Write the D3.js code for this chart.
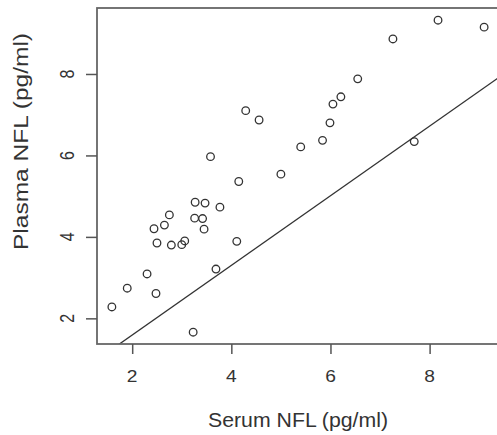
<!DOCTYPE html>
<html>
<head>
<meta charset="utf-8">
<script src="https://cdn.jsdelivr.net/npm/d3@7"></script>
<style>
  html, body { margin: 0; padding: 0; background: #fff; }
  svg { display: block; overflow: hidden; }
  text { font-family: "Liberation Sans", Arial, sans-serif; fill: #333; }
</style>
</head>
<body>
<svg id="chart" width="497" height="435"></svg>
<script>
// ---- data ----
const serumNFL = [1.59, 1.90, 2.30, 2.48, 2.44, 2.50, 2.65, 2.75, 2.79, 3.00, 3.06, 3.23, 3.27, 3.26, 3.42, 3.47, 3.45, 3.58, 3.69, 3.77, 4.11, 4.15, 4.29, 4.56, 5.00, 5.40, 5.84, 5.99, 6.05, 6.21, 6.55, 7.26, 7.69, 8.17, 9.10];
const plasmaNFL = [2.28, 2.74, 3.09, 2.61, 4.20, 3.85, 4.29, 4.54, 3.80, 3.81, 3.90, 1.66, 4.85, 4.46, 4.45, 4.83, 4.19, 5.97, 3.21, 4.73, 3.89, 5.36, 7.10, 6.87, 5.54, 6.21, 6.37, 6.80, 7.26, 7.44, 7.88, 8.86, 6.34, 9.32, 9.15];
const xTicks = [2, 4, 6, 8];
const yTicks = [2, 4, 6, 8];
const xDomain = [1.29, 9.40];
const yDomain = [1.37, 9.62];
const fitIntercept = -0.12;
const fitSlope = 0.855;
const xTitle = "Serum NFL (pg/ml)";
const yTitle = "Plasma NFL (pg/ml)";

// ---- layout ----
const plot = { left: 97, right: 499, top: 8, bottom: 344 };
const svg = d3.select("#chart");

const x = d3.scaleLinear().domain(xDomain).range([plot.left, plot.right]);
const y = d3.scaleLinear().domain(yDomain).range([plot.bottom, plot.top]);

// clip for the fitted line
svg.append("defs").append("clipPath").attr("id", "plotclip")
  .append("rect")
  .attr("x", plot.left).attr("y", plot.top)
  .attr("width", plot.right - plot.left).attr("height", plot.bottom - plot.top);

// fitted line
const lx0 = xDomain[0], lx1 = xDomain[1];
svg.append("line")
  .attr("clip-path", "url(#plotclip)")
  .attr("x1", x(lx0)).attr("y1", y(fitIntercept + fitSlope * lx0))
  .attr("x2", x(lx1)).attr("y2", y(fitIntercept + fitSlope * lx1))
  .attr("stroke", "#333").attr("stroke-width", 1.3);

// points
svg.append("g").selectAll("circle")
  .data(serumNFL.map((v, i) => [v, plasmaNFL[i]]))
  .join("circle")
  .attr("cx", d => x(d[0]))
  .attr("cy", d => y(d[1]))
  .attr("r", 3.8)
  .attr("fill", "none")
  .attr("stroke", "#333")
  .attr("stroke-width", 1.3);

// box
svg.append("rect")
  .attr("x", plot.left).attr("y", plot.top)
  .attr("width", plot.right - plot.left).attr("height", plot.bottom - plot.top)
  .attr("fill", "none").attr("stroke", "#666").attr("stroke-width", 1.8);

// x axis
const xAxis = svg.append("g")
  .attr("transform", `translate(0,${plot.bottom})`)
  .call(d3.axisBottom(x).tickValues(xTicks).tickSize(10).tickFormat(""));
xAxis.select(".domain").remove();
xAxis.selectAll(".tick line").attr("stroke", "#555").attr("stroke-width", 1.5);

svg.append("g").selectAll("text")
  .data(xTicks)
  .join("text")
  .attr("transform", d => `translate(${x(d)},382) scale(1.2,1)`)
  .attr("text-anchor", "middle")
  .attr("font-size", 16)
  .text(d => d);

// y axis
const yAxis = svg.append("g")
  .attr("transform", `translate(${plot.left},0)`)
  .call(d3.axisLeft(y).tickValues(yTicks).tickSize(11).tickFormat(""));
yAxis.select(".domain").remove();
yAxis.selectAll(".tick line").attr("stroke", "#555").attr("stroke-width", 1.5);

svg.append("g").selectAll("text")
  .data(yTicks)
  .join("text")
  .attr("transform", d => `translate(73.5,${y(d)}) rotate(-90) scale(1,1.3)`)
  .attr("text-anchor", "middle")
  .attr("font-size", 16)
  .text(d => d);

// axis titles
svg.append("text")
  .attr("x", 298).attr("y", 427)
  .attr("text-anchor", "middle")
  .attr("font-size", 20.5)
  .attr("textLength", 180)
  .attr("lengthAdjust", "spacingAndGlyphs")
  .text(xTitle);

svg.append("text")
  .attr("transform", "translate(27.5,141.5) rotate(-90)")
  .attr("text-anchor", "middle")
  .attr("font-size", 20)
  .attr("textLength", 217)
  .attr("lengthAdjust", "spacingAndGlyphs")
  .text(yTitle);
</script>
</body>
</html>
